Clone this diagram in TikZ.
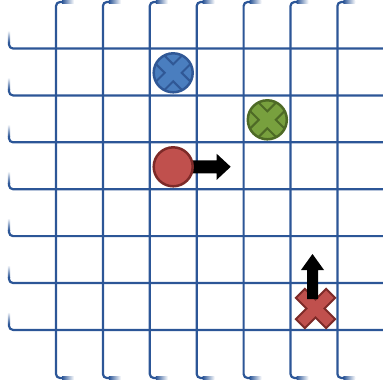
\documentclass[tikz,border=0pt]{standalone}
\definecolor{gridblue}{RGB}{44,86,151}
\definecolor{bluefill}{RGB}{74,126,191}
\definecolor{blueline}{RGB}{48,88,150}
\definecolor{greenfill}{RGB}{120,160,62}
\definecolor{greenline}{RGB}{78,106,38}
\definecolor{redfill}{RGB}{192,80,77}
\definecolor{redline}{RGB}{125,42,40}
\begin{document}
\begin{tikzpicture}[x=1pt,y=-1pt,
  gridline/.style={draw=gridblue,line width=2.2pt},
  xpoly/.style={line width=2pt,line join=miter},
  markcirc/.style={circle,minimum size=39pt,inner sep=0pt,line width=2.5pt},
  crossin/.style 2 args={path picture={
    \draw[xpoly,draw=#2,fill=#1]
      ([shift={(0,8.5)}]path picture bounding box.center)
      -- ++(17,17) -- ++(8.5,-8.5) -- ++(-17,-17) -- ++(17,-17) -- ++(-8.5,-8.5)
      -- ++(-17,17) -- ++(-17,-17) -- ++(-8.5,8.5) -- ++(17,17) -- ++(-17,17)
      -- ++(8.5,8.5) -- cycle;}},
  blockarrow/.style={fill=black}
]
\useasboundingbox (0,0) rectangle (383,383);
% horizontal grid lines
\foreach \k in {0,...,6}{
  \pgfmathsetmacro\yy{48.5+46.9*\k}
  \draw[gridline,rounded corners=4pt] (9,{\yy-6}) -- (9,\yy) -- (383,\yy);
  \shade[top color=white,bottom color=gridblue] (7.9,{\yy-18}) rectangle (10.1,{\yy-6});
}
% vertical grid lines
\foreach \k in {0,...,6}{
  \pgfmathsetmacro\xx{56+46.9*\k}
  \draw[gridline,rounded corners=4pt] ({\xx+6},2) -- (\xx,2) -- (\xx,378) -- ({\xx+6},378);
  \shade[left color=gridblue,right color=white] ({\xx+6},0.9) rectangle ({\xx+18},3.1);
  \shade[left color=gridblue,right color=white] ({\xx+6},376.9) rectangle ({\xx+18},379.1);
}
% blue and green circles with cross
\node[markcirc,fill=bluefill,draw=blueline,crossin={bluefill}{blueline}] (blue) at (173.2,72.8) {};
\node[markcirc,fill=greenfill,draw=greenline,crossin={greenfill}{greenline}] (green) at (267.3,119.8) {};
% red circle with right arrow
\coordinate (rcc) at (173.2,166.8);
\fill[blockarrow] ([xshift=10pt]rcc) ++(0,-6.5) -- ++(33.5,0) -- ++(0,-6.5) -- ++(14,13)
  -- ++(-14,13) -- ++(0,-6.5) -- ++(-33.5,0) -- cycle;
\node[markcirc,fill=redfill,draw=redline] (red) at (rcc) {};
% red cross with up arrow
\coordinate (rx) at (315.5,308.5);
\draw[xpoly,draw=redline,fill=redfill]
  ([shift={(0,-9)}]rx) -- ++(10.6,-10.6) -- ++(9,9) -- ++(-10.6,10.6) -- ++(10.6,10.6)
  -- ++(-9,9) -- ++(-10.6,-10.6) -- ++(-10.6,10.6) -- ++(-9,-9) -- ++(10.6,-10.6)
  -- ++(-10.6,-10.6) -- ++(9,-9) -- cycle;
\fill[blockarrow] ([shift={(-3,-9.5)}]rx) ++(-5.5,0) -- ++(0,-29) -- ++(-6,0) -- ++(11.5,-16)
  -- ++(11.5,16) -- ++(-6,0) -- ++(0,29) -- cycle;
\end{tikzpicture}
\end{document}
